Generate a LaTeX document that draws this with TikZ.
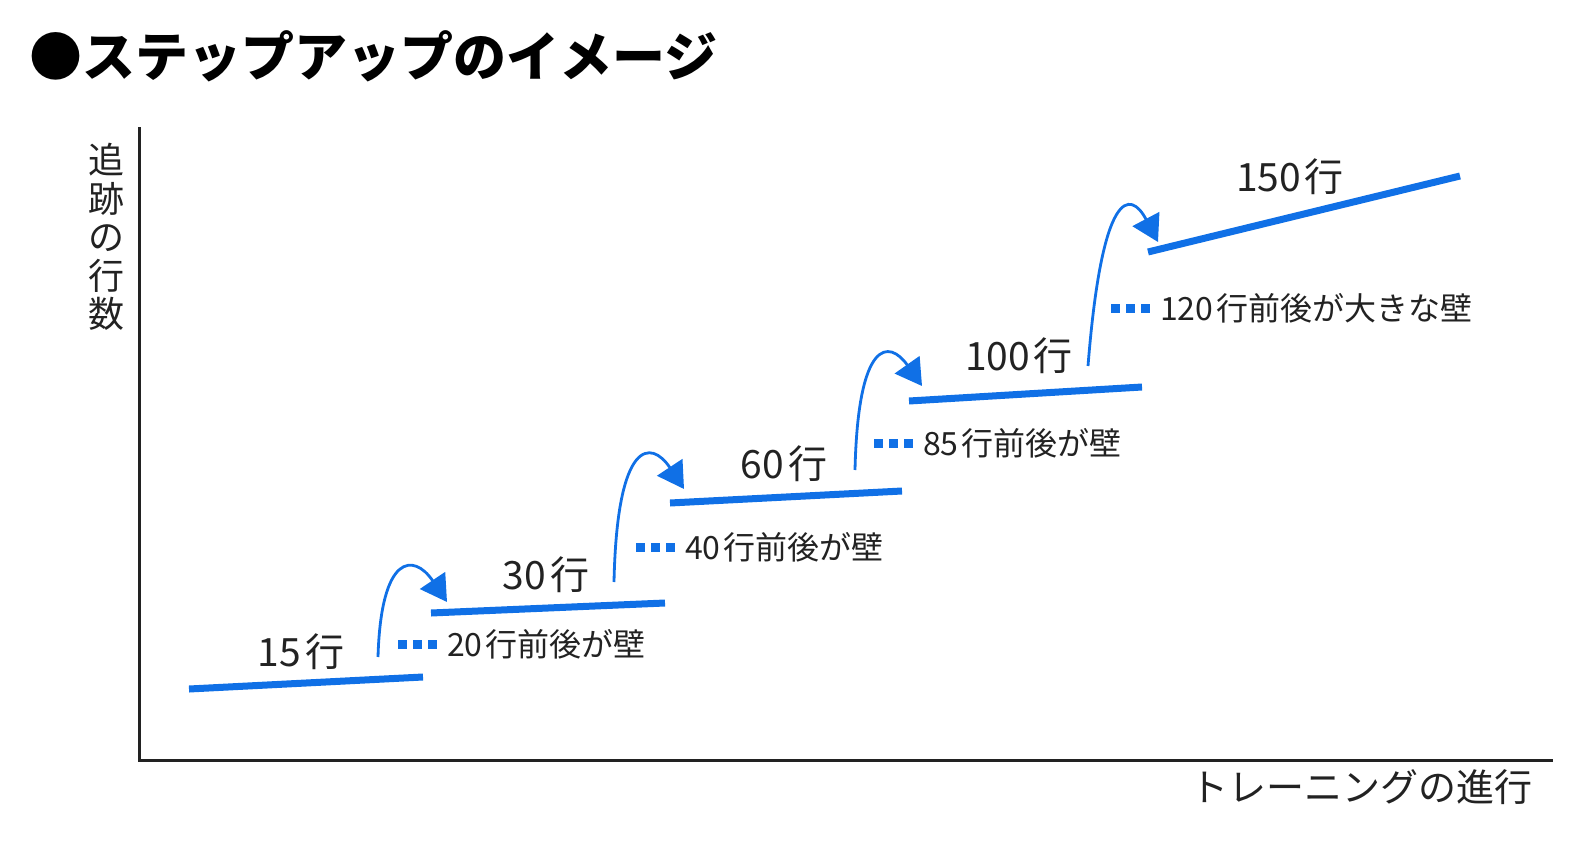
\documentclass[tikz,border=0pt]{standalone}
\usepackage{fontspec}
\setmainfont{Noto Sans CJK JP}
\usetikzlibrary{arrows.meta}
\definecolor{stepblue}{RGB}{16,112,230}
\definecolor{inkgray}{RGB}{34,34,34}
\newcommand{\fs}[1]{\fontsize{#1}{#1}\selectfont}

\begin{document}
\begin{tikzpicture}[x=1pt, y=-1pt,
    stepline/.style={stepblue, line width=7pt},
    jump/.style={stepblue, line width=2.8pt, -{Triangle[length=26pt, width=30pt]}},
    wallmark/.style={stepblue, line width=9pt, dash pattern=on 9pt off 6pt},
    steplabel/.style={inkgray, font=\fs{39}},
    walllabel/.style={inkgray, font=\fs{32}, anchor=west, inner sep=0pt},
    axis/.style={inkgray, line width=3pt}]
    \useasboundingbox (0,0) rectangle (1586,840);

    % Title
    \node[anchor=west, font=\fs{53}\bfseries, black] (title) at (26,56) {●ステップアップのイメージ};

    % Axes
    \coordinate (ytop) at (139,127);
    \coordinate (origin) at (139,760);
    \coordinate (xend) at (1553,760);
    \draw[axis] (ytop) -- (origin) -- (xend);
    \node[inkgray, font={\fontsize{36}{38.5}\selectfont}, align=center] (ylabel) at (106,237) {追\\跡\\の\\行\\数};
    \node[anchor=east, inkgray, font=\fs{38}] (xlabel) at (1536,787) {トレーニングの進行};

    % Steps
    \foreach \i/\ax/\ay/\bx/\by in {1/189/689/423/677, 2/431/613/665/603, 3/670/503/902/491, 4/909/401/1142/387, 5/1148/252/1460/176} {
        \coordinate (s\i a) at (\ax,\ay);
        \coordinate (s\i b) at (\bx,\by);
        \draw[stepline] (s\i a) -- (s\i b);
    }

    % Step labels
    \node[steplabel] (n15) at (301,652) {15\hspace{4pt}行};
    \node[steplabel] (n30) at (546,575) {30\hspace{4pt}行};
    \node[steplabel] (n60) at (784,464) {60\hspace{4pt}行};
    \node[steplabel] (n100) at (1019,356) {100\hspace{4pt}行};
    \node[steplabel] (n150) at (1290,177) {150\hspace{4pt}行};

    % Walls
    \node[walllabel] (w20) at (447,644) {20\hspace{3pt}行前後が壁};
    \node[walllabel] (w40) at (685,547) {40\hspace{3pt}行前後が壁};
    \node[walllabel] (w85) at (923,443) {85\hspace{3pt}行前後が壁};
    \node[walllabel] (w120) at (1160,308) {120\hspace{3pt}行前後が大きな壁};
    \foreach \w in {w20, w40, w85, w120} {
        \draw[wallmark] ([xshift=-49pt]\w.west) -- ([xshift=-10pt]\w.west);
    }

    % Jumps to the next step
    \coordinate (j1s) at (378,657);
    \coordinate (j1t) at (447,602);
    \draw[jump] (j1s) .. controls (381,553) and (414,553) .. (j1t);
    \coordinate (j2s) at (614,582);
    \coordinate (j2t) at (684,489);
    \draw[jump] (j2s) .. controls (617,439) and (651,439) .. (j2t);
    \coordinate (j3s) at (855,470);
    \coordinate (j3t) at (922,386);
    \draw[jump] (j3s) .. controls (858,339) and (889,339) .. (j3t);
    \coordinate (j4s) at (1088,366);
    \coordinate (j4t) at (1158,242);
    \draw[jump] (j4s) .. controls (1102,189) and (1130,189) .. (j4t);
\end{tikzpicture}
\end{document}
